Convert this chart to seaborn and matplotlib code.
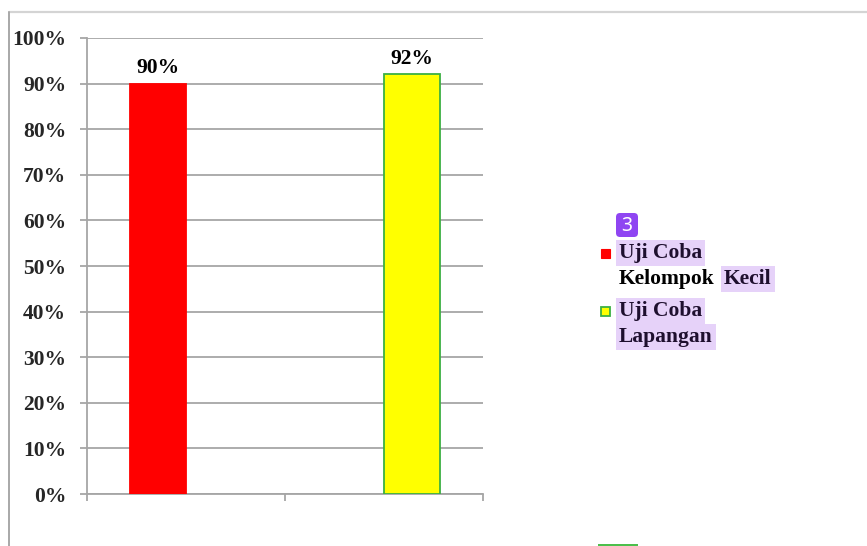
import matplotlib
matplotlib.use("Agg")
import matplotlib.pyplot as plt
from matplotlib.patches import Rectangle, FancyBboxPatch
from matplotlib.lines import Line2D
from matplotlib.ticker import FuncFormatter, MultipleLocator
import seaborn as sns
import pandas as pd

# Data
kategori = ["Kelompok Kecil", "Lapangan"]
seri = ["Uji Coba Kelompok Kecil", "Uji Coba Lapangan"]
nilai_kecil = [90, 0]
nilai_lapangan = [0, 92]
warna = ["#ff0000", "#ffff00"]
tepi = ["#ff0000", "#3cb043"]
label_legenda = [["Uji Coba", "Kelompok Kecil"], ["Uji Coba", "Lapangan"]]

df = pd.DataFrame({
    "kategori": kategori * 2,
    "seri": [seri[0]] * 2 + [seri[1]] * 2,
    "nilai": nilai_kecil + nilai_lapangan,
})

sns.set_theme(style="white")
plt.rcParams["font.family"] = ["Liberation Serif", "DejaVu Serif"]
plt.rcParams["font.weight"] = "bold"

FS = 15.5
W, H = 867, 546
fig = plt.figure(figsize=(W / 100, H / 100), dpi=100)
ax = fig.add_axes([87 / W, 1 - 494 / H, (483 - 87) / W, (494 - 38) / H])

sns.barplot(data=df, x="kategori", y="nilai", hue="seri", order=kategori,
            hue_order=seri, palette=warna, width=0.566, saturation=1,
            legend=False, ax=ax)

for cont, ec in zip(ax.containers, tepi):
    for bar in cont:
        if bar.get_height() == 0:
            bar.set_visible(False)
        else:
            bar.set_edgecolor(ec)
            bar.set_linewidth(1.3)
            bar.set_zorder(3)
            ax.annotate(f"{bar.get_height():.0f}%",
                        (bar.get_x() + bar.get_width() / 2, bar.get_height()),
                        xytext=(0, 4), textcoords="offset points",
                        ha="center", va="bottom", fontsize=FS,
                        fontweight="bold", color="black")

grid_col = "#a6a6a6"
ax.set_ylim(0, 100)
ax.set_xlim(-0.5, 1.5)
ax.yaxis.set_major_locator(MultipleLocator(10))
ax.yaxis.set_major_formatter(FuncFormatter(lambda v, p: f"{v:.0f}%"))
ax.grid(axis="y", color=grid_col, linewidth=1.3, zorder=0)
ax.set_axisbelow(True)
ax.set_xticks([-0.5, 0.5, 1.5])
ax.set_xticklabels([])
ax.set_xlabel("")
ax.set_ylabel("")
for s in ["top", "right"]:
    ax.spines[s].set_visible(False)
for s in ["left", "bottom"]:
    ax.spines[s].set_color(grid_col)
    ax.spines[s].set_linewidth(1.3)
ax.tick_params(axis="y", which="both", left=True, length=5, width=1.3,
               color=grid_col, pad=10, labelsize=FS)
ax.tick_params(axis="x", which="both", bottom=True, length=5, width=1.3,
               color=grid_col)
for t in ax.get_yticklabels():
    t.set_fontweight("bold")

# Outer frame
fig.add_artist(Line2D([9 / W, 1], [1 - 12 / H, 1 - 12 / H],
                      transform=fig.transFigure, color="#d4d4d4", lw=1.6))
fig.add_artist(Line2D([9 / W, 9 / W], [0, 1 - 12 / H],
                      transform=fig.transFigure, color="#a8a8a8", lw=1.4))
fig.add_artist(Rectangle((598 / W, 0), 40 / W, 2 / H, transform=fig.transFigure,
                         facecolor="#4cbf4c", edgecolor="none"))

# Legend
hl = "#e6d2f9"
txt_hl = "#1e0f2e"


def fx(px):
    return px / W


def fy(py):
    return 1 - py / H


def word(x, y, s, highlight):
    kw = dict(fontsize=FS, fontweight="bold", ha="left", va="center",
              transform=fig.transFigure)
    if highlight:
        fig.text(fx(x), fy(y), s, color=txt_hl,
                 bbox=dict(facecolor=hl, edgecolor="none", pad=2.2), **kw)
    else:
        fig.text(fx(x), fy(y), s, color="black", **kw)


fig.add_artist(Rectangle((fx(601), fy(258)), 9 / W, 9 / H,
                         transform=fig.transFigure, facecolor=warna[0],
                         edgecolor=tepi[0], lw=0.8))
fig.add_artist(Rectangle((fx(601), fy(316)), 9 / W, 9 / H,
                         transform=fig.transFigure, facecolor=warna[1],
                         edgecolor=tepi[1], lw=1.3))
word(619, 253, label_legenda[0][0], True)
word(619, 279, label_legenda[0][1].split()[0], False)
word(724, 279, label_legenda[0][1].split()[1], True)
word(619, 311, label_legenda[1][0], True)
word(619, 337, label_legenda[1][1], True)

badge = FancyBboxPatch((616, H - 237), 22, 24,
                       boxstyle="round,pad=0,rounding_size=4",
                       transform=None, facecolor="#8f45f2",
                       edgecolor="none")
fig.add_artist(badge)
fig.text(fx(627), fy(226), "3", color="white", fontsize=14,
         fontweight="normal", family=["Noto Sans", "DejaVu Sans"],
         ha="center", va="center")

fig.savefig("out.png", dpi=100, facecolor="white")
